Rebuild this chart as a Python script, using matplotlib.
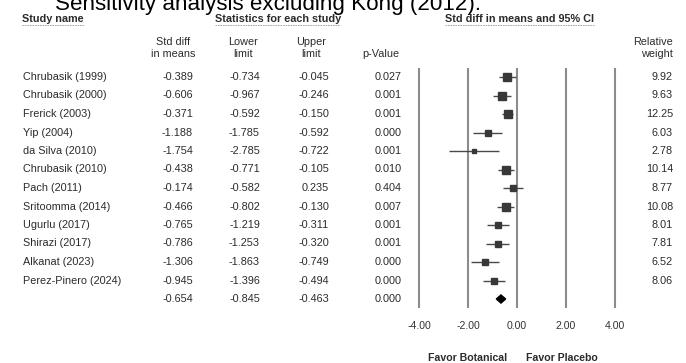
import matplotlib
matplotlib.use("Agg")
import matplotlib.pyplot as plt
import matplotlib.transforms as mtransforms
import numpy as np

plt.rcParams['font.family'] = ['Liberation Sans', 'DejaVu Sans']

# data
studies = ["Chrubasik (1999)", "Chrubasik (2000)", "Frerick (2003)", "Yip (2004)",
           "da Silva (2010)", "Chrubasik (2010)", "Pach (2011)", "Sritoomma (2014)",
           "Ugurlu (2017)", "Shirazi (2017)", "Alkanat (2023)", "Perez-Pinero (2024)"]
smd = [-0.389, -0.606, -0.371, -1.188, -1.754, -0.438, -0.174, -0.466,
       -0.765, -0.786, -1.306, -0.945]
lower = [-0.734, -0.967, -0.592, -1.785, -2.785, -0.771, -0.582, -0.802,
         -1.219, -1.253, -1.863, -1.396]
upper = [-0.045, -0.246, -0.150, -0.592, -0.722, -0.105, 0.235, -0.130,
         -0.311, -0.320, -0.749, -0.494]
pvals = ["0.027", "0.001", "0.001", "0.000", "0.001", "0.010", "0.404", "0.007",
         "0.001", "0.001", "0.000", "0.000"]
weights = [9.92, 9.63, 12.25, 6.03, 2.78, 10.14, 8.77, 10.08, 8.01, 7.81, 6.52, 8.06]
pooled = [-0.654, -0.845, -0.463]
pooled_p = "0.000"
xticks = [-4, -2, 0, 2, 4]

W, H = 686, 363
fig = plt.figure(figsize=(W / 100, H / 100), dpi=100)
fig.patch.set_facecolor("white")

# overlay axes in pixel units for the text table
over = fig.add_axes([0, 0, 1, 1])
over.set_xlim(0, W)
over.set_ylim(H, 0)
over.axis("off")

# forest axes: -4..4 at px 419..615, rows 0..12 at px 77..299
px_unit = 24.5
row_h = 18.5
x0 = 419 - 1.5 * px_unit
x1 = 615 + 1.5 * px_unit
y_top = 77 - 0.5 * row_h
y_bot = 77 + 12.5 * row_h
fax = fig.add_axes([x0 / W, 1 - y_bot / H, (x1 - x0) / W, (y_bot - y_top) / H])
fax.set_xlim(-5.5, 5.5)
fax.set_ylim(12.5, -0.5)
for s in fax.spines.values():
    s.set_visible(False)
fax.set_yticks([])
fax.set_xticks(xticks)
fax.set_xticklabels(["%.2f" % t for t in xticks], fontsize=7.6, color="#333333")
fax.tick_params(axis="x", length=0, pad=9)
fax.patch.set_alpha(0)

for t in xticks:
    fax.axvline(t, color="#8c8c8c", lw=1.5, zorder=1)

rows = np.arange(len(studies))
mk = "#383838"
fax.hlines(rows, lower, upper, color="#4a4a4a", lw=1.0, zorder=2)
for r, m, w in zip(rows, smd, weights):
    side = 8.0 * np.sqrt(w / max(weights)) * 0.72
    fax.plot(m, r, marker="s", ms=side, color=mk, mec=mk, zorder=3)

pr = len(studies)
fax.fill([pooled[1], pooled[0], pooled[2], pooled[0]],
         [pr, pr - 0.22, pr, pr + 0.22], color="black", zorder=3)

# text table
tc = "#2b2b2b"
fs = 7.8
over.text(55, 10, "Sensitivity analysis excluding Kong (2012).", fontsize=16.1,
          ha="left", va="baseline", color="black")

hdrs = [(22, 84, "Study name"), (215, 340, "Statistics for each study"),
        (445, 594, "Std diff in means and 95% CI")]
for a, b, s in hdrs:
    over.text(a, 19, s, fontsize=fs, fontweight="bold", ha="left", va="center", color=tc)
    over.plot([a, b], [25, 25], color="#9a9a9a", lw=0.6, ls=(0, (2, 1)))

over.text(173, 48, "Std diff\nin means", fontsize=fs, ha="center", va="center",
          color=tc, linespacing=1.25)
over.text(243, 48, "Lower\nlimit", fontsize=fs, ha="center", va="center",
          color=tc, linespacing=1.25)
over.text(311, 48, "Upper\nlimit", fontsize=fs, ha="center", va="center",
          color=tc, linespacing=1.25)
over.text(381, 54, "p-Value", fontsize=fs, ha="center", va="center", color=tc)
over.text(673, 48, "Relative\nweight", fontsize=fs, ha="right", va="center",
          color=tc, linespacing=1.25)

tr = mtransforms.blended_transform_factory(over.transData, fax.transData)
for r in rows:
    over.text(23, r, studies[r], fontsize=fs, ha="left", va="center", color=tc, transform=tr)
    over.text(193, r, "%.3f" % smd[r], fontsize=fs, ha="right", va="center", color=tc, transform=tr)
    over.text(260, r, "%.3f" % lower[r], fontsize=fs, ha="right", va="center", color=tc, transform=tr)
    over.text(329, r, "%.3f" % upper[r], fontsize=fs, ha="right", va="center", color=tc, transform=tr)
    over.text(402, r, pvals[r], fontsize=fs, ha="right", va="center", color=tc, transform=tr)
    over.text(673, r, "%.2f" % weights[r], fontsize=fs, ha="right", va="center", color=tc, transform=tr)

over.text(193, pr, "%.3f" % pooled[0], fontsize=fs, ha="right", va="center", color=tc, transform=tr)
over.text(260, pr, "%.3f" % pooled[1], fontsize=fs, ha="right", va="center", color=tc, transform=tr)
over.text(329, pr, "%.3f" % pooled[2], fontsize=fs, ha="right", va="center", color=tc, transform=tr)
over.text(402, pr, pooled_p, fontsize=fs, ha="right", va="center", color=tc, transform=tr)

over.text(468, 358, "Favor Botanical", fontsize=7.6, fontweight="bold", ha="center",
          va="center", color=tc)
over.text(562, 358, "Favor Placebo", fontsize=7.6, fontweight="bold", ha="center",
          va="center", color=tc)

fig.savefig("out.png", dpi=100, facecolor="white")
